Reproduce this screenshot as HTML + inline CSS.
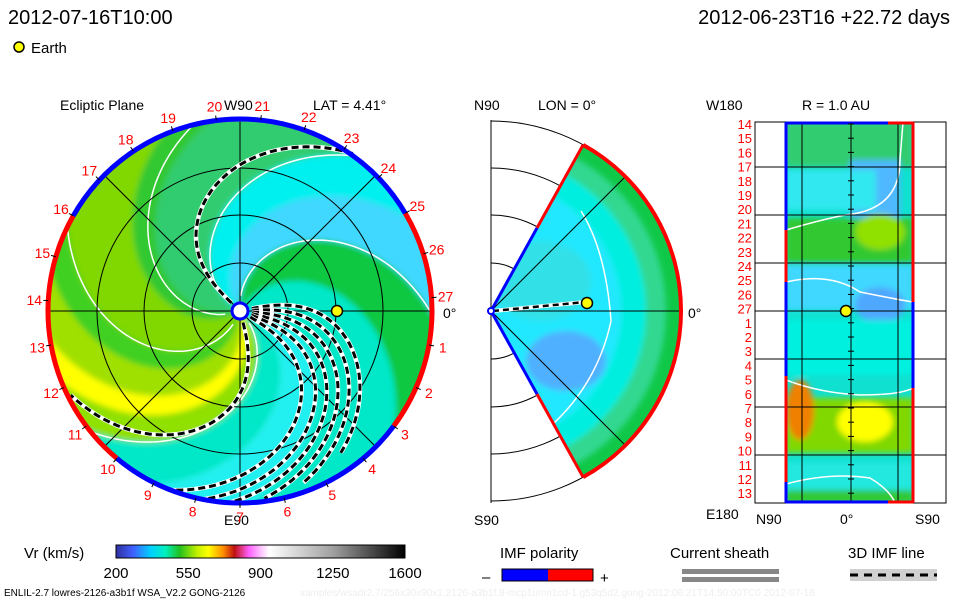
<!DOCTYPE html>
<html><head><meta charset="utf-8"><style>
body{margin:0;background:#fff;overflow:hidden;}
svg{display:block;font-family:"Liberation Sans",sans-serif;}
</style></head><body>
<svg id="s" width="960" height="600" viewBox="0 0 960 600">
<defs>
<filter id="bl" x="-10%" y="-10%" width="120%" height="120%"><feGaussianBlur stdDeviation="3"/></filter>
<clipPath id="discClip"><circle cx="240" cy="311" r="192"/></clipPath>
<clipPath id="wedgeClip"><path id="wedgePathC" d=""/></clipPath>
<clipPath id="rectClip"><rect x="786" y="122" width="127" height="381"/></clipPath>
<linearGradient id="cb" x1="0" x2="1" y1="0" y2="0">
<stop offset="0" stop-color="#3030a0"/><stop offset="0.06" stop-color="#4060ff"/><stop offset="0.12" stop-color="#00d0ff"/><stop offset="0.17" stop-color="#00f0c0"/><stop offset="0.22" stop-color="#20c020"/><stop offset="0.28" stop-color="#c0f000"/><stop offset="0.32" stop-color="#ffff00"/><stop offset="0.37" stop-color="#ff9000"/><stop offset="0.41" stop-color="#c01010"/><stop offset="0.46" stop-color="#ff60ff"/><stop offset="0.5" stop-color="#ffc0ff"/><stop offset="0.53" stop-color="#ffffff"/><stop offset="0.75" stop-color="#a0a0a0"/><stop offset="1" stop-color="#000"/>
</linearGradient>
</defs>
<text x="8" y="24" font-size="20" fill="#000">2012-07-16T10:00</text>
<text x="950" y="24" font-size="20" fill="#000" text-anchor="end">2012-06-23T16 +22.72 days</text>
<circle cx="19" cy="47" r="5" fill="#ffff00" stroke="#000" stroke-width="1.5"/>
<text x="31" y="53" font-size="15">Earth</text>
<text x="60" y="110" font-size="14">Ecliptic Plane</text>
<text x="313" y="110" font-size="14">LAT = 4.41°</text>
<text x="224" y="110" font-size="14">W90</text>
<text x="224" y="525" font-size="14">E90</text>
<text x="443" y="318" font-size="14">0°</text>
<text x="474" y="110" font-size="14">N90</text>
<text x="538" y="110" font-size="14">LON = 0°</text>
<text x="474" y="525" font-size="14">S90</text>
<text x="688" y="318" font-size="14">0°</text>
<text x="706" y="110" font-size="14">W180</text>
<text x="802" y="110" font-size="14">R = 1.0 AU</text>
<text x="706" y="519" font-size="14">E180</text>
<text x="756" y="524" font-size="14">N90</text>
<text x="840" y="524" font-size="14">0°</text>
<text x="915" y="524" font-size="14">S90</text>
<g id="disc" clip-path="url(#discClip)"></g>
<g id="discOver"></g>
<g id="wedge"></g>
<g id="rect"></g>
<text x="24" y="558" font-size="15">Vr (km/s)</text>
<rect x="116" y="545" width="289" height="13" fill="url(#cb)" stroke="#000"/>
<g id="cbt"></g>
<text x="500" y="558" font-size="15">IMF polarity</text>
<text x="482" y="582" font-size="15">–</text>
<rect x="502" y="569" width="46" height="12" fill="#0000ff"/>
<rect x="548" y="569" width="45" height="12" fill="#ff0000"/>
<rect x="502" y="569" width="91" height="12" fill="none" stroke="#000"/>
<text x="600" y="583" font-size="15">+</text>
<text x="670" y="558" font-size="15">Current sheath</text>
<rect x="682" y="569" width="97" height="5" fill="#888"/>
<rect x="682" y="577" width="97" height="5" fill="#888"/>
<text x="848" y="558" font-size="15">3D IMF line</text>
<rect x="850" y="569" width="87" height="12" fill="#d0d0d0"/>
<line x1="850" y1="575" x2="937" y2="575" stroke="#000" stroke-width="3" stroke-dasharray="8 6"/>
<text x="4" y="596" font-size="10">ENLIL-2.7 lowres-2126-a3b1f WSA_V2.2 GONG-2126</text>
<text x="300" y="596" font-size="10" fill="#eee">xamples/wsadr2.7/256x30x90x1.2126-a3b1f.8-mcp1umn1cd-1.g53q5d2.gong-2012:06:21T14:50:00TC0   2012-07-16</text>
</svg>
<script>
const NS="http://www.w3.org/2000/svg";
// ---- data ----
const dayLabels=[1,2,3,4,5,6,7,8,9,10,11,12,13,14,15,16,17,18,19,20,21,22,23,24,25,26,27];
const rightDayLabels=[14,15,16,17,18,19,20,21,22,23,24,25,26,27,1,2,3,4,5,6,7,8,9,10,11,12,13];
const colorbarTicks=[200,550,900,1250,1600];
const vrMin=200, vrMax=1600;
// spiral bands in ecliptic plane: [startAngle, endAngle] (deg at Sun), colour
const bandStart=[-170,-150,-110,-95,-75,-62,-45,-20,10,60,95,125,150,195];
const bandEnd=[-150,-110,-95,-75,-62,-45,-20,10,60,95,125,150,195,200];
const bandColor=["#30c830","#80d800","#40d020","#a0e000","#ffff00","#90e000","#00e8c8","#20f0f0","#00e8c8","#10c840","#40d8ff","#00f0f0","#30cc70","#30c830"];
const imfLineAngles=[12,4,-4,-12,-20,-30,137,-75];
const imfLineLength=[175,185,190,192,192,192,195,190];
const earthLon=0, earthR=1.0;
// ---- helpers ----
const s=document.getElementById('s');
function el(tag,attrs,parent){const e=document.createElementNS(NS,tag);for(const k in attrs)e.setAttribute(k,attrs[k]);(parent||s).appendChild(e);return e;}
const CX=240,CY=311,R=192,K=0.5,K2=0.0022;
function pt(th,r){const a=th*Math.PI/180;return [CX+r*Math.cos(a),CY-r*Math.sin(a)];}
function spiral(th0,r0,r1){const p=[];for(let r=r0;r<=r1;r+=3){p.push(pt(th0-K*r,r));}return p;}
function fieldLine(th0,r0,r1){const p=[];for(let r=r0;r<=r1;r+=3){p.push(pt(th0-K2*r*r,r));}return p;}
// disc
const disc=document.getElementById('disc');
el('circle',{cx:CX,cy:CY,r:R,fill:"#30c830"},disc);
const bg=el('g',{filter:"url(#bl)"},disc);
for(let i=0;i<bandStart.length;i++){
  const a=spiral(bandStart[i],0,220), b=spiral(bandEnd[i],0,220).reverse();
  const p=el('path',{d:"M"+a.concat(b).map(q=>q[0].toFixed(1)+","+q[1].toFixed(1)).join("L")+"Z",fill:bandColor[i]},bg);
  
  
}
[-110,-45,95,150,200].forEach(t=>{const p=spiral(t,15,200);el('path',{d:"M"+p.map(q=>q.join(",")).join("L"),fill:"none",stroke:"#fff","stroke-width":1.5},disc);});
// grid
const ov=document.getElementById('discOver');
[48,96,143].forEach(r=>el('circle',{cx:CX,cy:CY,r:r,fill:"none",stroke:"#000","stroke-width":1},ov));
[0,45,90,135].forEach(a=>{const p=pt(a,R),q=pt(a+180,R);el('line',{x1:p[0],y1:p[1],x2:q[0],y2:q[1],stroke:"#000","stroke-width":1},ov);});
// imf lines
imfLineAngles.forEach((t,i)=>{const p=fieldLine(t,12,imfLineLength[i]);const d="M"+p.map(q=>q[0].toFixed(1)+","+q[1].toFixed(1)).join("L");
 el('path',{d:d,fill:"none",stroke:"#fff","stroke-width":4.5},ov);
 const l=el('path',{d:d,fill:"none",stroke:"#000","stroke-width":3,"stroke-dasharray":"7 4"},ov);
 
 });
// rim
function arc(a0,a1,r,col,w,parent){const p=pt(a0,r),q=pt(a1,r);const large=(a1-a0)>180?1:0;return el('path',{d:`M${p[0]},${p[1]} A${r},${r} 0 ${large} 0 ${q[0]},${q[1]}`,fill:"none",stroke:col,"stroke-width":w},parent);}
function dayAng(k){return 4+(27-k)*13.3;}
arc(dayAng(25),dayAng(16),R,"#0000ff",5,ov);
arc(dayAng(16),dayAng(10),R,"#ff0000",5,ov);
arc(dayAng(10),dayAng(3),R,"#0000ff",5,ov);
arc(dayAng(3)-360,dayAng(25),R,"#ff0000",5,ov);
dayLabels.forEach(k=>{const a=dayAng(k);const p=pt(a,206);const t=el('text',{x:p[0],y:p[1]+5,"font-size":14,fill:"#ff0000","text-anchor":"middle"},ov);t.textContent=k;
 
 
 const a1=pt(a,192),a2=pt(a,197);el('line',{x1:a1[0],y1:a1[1],x2:a2[0],y2:a2[1],stroke:"#000"},ov);});
el('circle',{cx:CX,cy:CY,r:8,fill:"#fff",stroke:"#0000ff","stroke-width":3},ov);
const ep=pt(earthLon,earthR*97);
const e1=el('circle',{cx:ep[0],cy:ep[1],r:5.5,fill:"#ffff00",stroke:"#000","stroke-width":1.5},ov);


// wedge
const W=document.getElementById('wedge');const MX=491,MY=311,MR=190,WA=61;
function mp(a,r){const t=a*Math.PI/180;return [MX+r*Math.cos(t),MY-r*Math.sin(t)];}
const wt=mp(WA,MR),wb=mp(-WA,MR);
const wd=`M${MX},${MY} L${wt[0]},${wt[1]} A${MR},${MR} 0 0 1 ${wb[0]},${wb[1]} Z`;
el('line',{x1:MX,y1:120,x2:MX,y2:503,stroke:"#000"},W);
[48,96,143,190].forEach(r=>el('path',{d:`M${MX},${MY-r} A${r},${r} 0 0 1 ${MX},${MY+r}`,fill:"none",stroke:"#000"},W));
document.getElementById('wedgePathC').setAttribute('d',wd);
const wg=el('g',{"clip-path":"url(#wedgeClip)"},W);
el('path',{d:wd,fill:"#10c848"},wg);
const wg2=el('g',{filter:"url(#bl)"},wg);
el('circle',{cx:MX,cy:MY,r:175,fill:"#30d890"},wg2);
el('circle',{cx:MX,cy:MY,r:155,fill:"#00eee0"},wg2);
el('circle',{cx:MX,cy:MY,r:130,fill:"#20e8ff"},wg2);
el('ellipse',{cx:MX+50,cy:MY-30,rx:50,ry:40,fill:"#30e0e8"},wg2);
el('ellipse',{cx:MX+75,cy:MY+50,rx:40,ry:30,fill:"#50b0ff"},wg2);
el('path',{d:`M${MX+90},${MY-100} Q${MX+115},${MY-60} ${MX+120},${MY+10} Q${MX+105},${MY+80} ${MX+48},${MY+125}`,fill:"none",stroke:"#fff","stroke-width":1.5},wg);
[45,-45].forEach(a=>{const p=mp(a,MR);el('line',{x1:MX,y1:MY,x2:p[0],y2:p[1],stroke:"#000"},W);});
el('line',{x1:MX,y1:MY,x2:MX+190,y2:MY,stroke:"#000"},W);
const wm1=mp(WA,95),wm2=mp(-WA,95);
el('line',{x1:MX,y1:MY,x2:wm1[0],y2:wm1[1],stroke:"#0000ff","stroke-width":3},W);
el('line',{x1:wm1[0],y1:wm1[1],x2:wt[0],y2:wt[1],stroke:"#ff0000","stroke-width":3},W);
el('line',{x1:MX,y1:MY,x2:wm2[0],y2:wm2[1],stroke:"#0000ff","stroke-width":3},W);
el('line',{x1:wm2[0],y1:wm2[1],x2:wb[0],y2:wb[1],stroke:"#ff0000","stroke-width":3},W);
el('path',{d:`M${wt[0]},${wt[1]} A${MR},${MR} 0 0 1 ${wb[0]},${wb[1]}`,fill:"none",stroke:"#ff0000","stroke-width":4},W);
el('line',{x1:MX+2,y1:MY,x2:MX+94,y2:MY-9,stroke:"#fff","stroke-width":4},W);
el('line',{x1:MX+2,y1:MY,x2:MX+94,y2:MY-9,stroke:"#000","stroke-width":2.5,"stroke-dasharray":"6 4"},W);
el('circle',{cx:MX,cy:MY,r:3,fill:"#fff",stroke:"#0000ff","stroke-width":2},W);
const e2=el('circle',{cx:MX+96,cy:MY-8,r:5.5,fill:"#ffff00",stroke:"#000","stroke-width":1.5},W);


// right map
const RG=document.getElementById('rect');
el('rect',{x:755,y:122,width:191,height:381,fill:"#fff",stroke:"#000"},RG);
const rc=el('g',{"clip-path":"url(#rectClip)"},RG);
el('rect',{x:786,y:122,width:127,height:381,fill:"#10e0d0"},rc);
const rb=el('g',{filter:"url(#bl)"},rc);
el('rect',{x:786,y:122,width:127,height:45,fill:"#30cc70"},rb);
el('rect',{x:850,y:160,width:50,height:60,fill:"#50b8ff"},rb);
el('rect',{x:786,y:170,width:90,height:40,fill:"#30e8f0"},rb);
el('rect',{x:786,y:218,width:127,height:45,fill:"#30c830"},rb);
el('ellipse',{cx:880,cy:232,rx:25,ry:18,fill:"#90e000"},rb);
el('rect',{x:786,y:265,width:127,height:45,fill:"#40d8ff"},rb);
el('ellipse',{cx:880,cy:305,rx:25,ry:18,fill:"#50a8ff"},rb);
el('rect',{x:786,y:320,width:127,height:55,fill:"#00f0e0"},rb);
el('rect',{x:786,y:398,width:127,height:55,fill:"#80d800"},rb);
el('ellipse',{cx:865,cy:422,rx:28,ry:20,fill:"#ffff00"},rb);
el('ellipse',{cx:800,cy:410,rx:14,ry:30,fill:"#f08000"},rb);
el('rect',{x:786,y:462,width:127,height:30,fill:"#20e8e0"},rb);
el('rect',{x:786,y:490,width:127,height:13,fill:"#30c830"},rb);
el('path',{d:"M786,230 Q820,220 845,215 Q900,210 900,160 L903,122",fill:"none",stroke:"#fff","stroke-width":1.5},rc);
el('path',{d:"M786,282 Q830,272 860,292 Q900,300 913,302",fill:"none",stroke:"#fff","stroke-width":1.5},rc);
el('path',{d:"M786,380 Q820,393 860,395 Q900,395 913,388",fill:"none",stroke:"#fff","stroke-width":1.5},rc);
el('path',{d:"M786,484 Q830,472 870,478 Q890,490 895,503",fill:"none",stroke:"#fff","stroke-width":1.5},rc);
[167,215,263,311,359,407,455].forEach(y=>el('line',{x1:755,y1:y,x2:946,y2:y,stroke:"#000"},RG));
[802,851,898].forEach(x=>el('line',{x1:x,y1:122,x2:x,y2:503,stroke:"#000"},RG));
el('line',{x1:786,y1:122,x2:786,y2:230,stroke:"#0000ff","stroke-width":3},RG);
el('line',{x1:786,y1:230,x2:786,y2:282,stroke:"#ff0000","stroke-width":3},RG);
el('line',{x1:786,y1:282,x2:786,y2:376,stroke:"#0000ff","stroke-width":3},RG);
el('line',{x1:786,y1:376,x2:786,y2:482,stroke:"#ff0000","stroke-width":3},RG);
el('line',{x1:786,y1:482,x2:786,y2:503,stroke:"#0000ff","stroke-width":3},RG);
el('line',{x1:913,y1:122,x2:913,y2:302,stroke:"#ff0000","stroke-width":3},RG);
el('line',{x1:913,y1:302,x2:913,y2:388,stroke:"#0000ff","stroke-width":3},RG);
el('line',{x1:913,y1:388,x2:913,y2:503,stroke:"#ff0000","stroke-width":3},RG);
el('line',{x1:786,y1:123,x2:888,y2:123,stroke:"#0000ff","stroke-width":3},RG);
el('line',{x1:888,y1:123,x2:913,y2:123,stroke:"#ff0000","stroke-width":3},RG);
el('line',{x1:786,y1:502,x2:888,y2:502,stroke:"#0000ff","stroke-width":3},RG);
el('line',{x1:888,y1:502,x2:913,y2:502,stroke:"#ff0000","stroke-width":3},RG);
rightDayLabels.forEach((k,i)=>{const y=129+i*14.2;const t=el('text',{x:752,y:y,"font-size":13,fill:"#ff0000","text-anchor":"end"},RG);t.textContent=k;
 
 
 el('line',{x1:848,y1:y-5,x2:854,y2:y-5,stroke:"#000"},RG);});
const e3=el('circle',{cx:846,cy:311,r:5.5,fill:"#ffff00",stroke:"#000","stroke-width":1.5},RG);


// colorbar ticks
const cbt=document.getElementById('cbt');
colorbarTicks.forEach(v=>{const x=116+(v-vrMin)/(vrMax-vrMin)*289;const t=el('text',{x:x,y:578,"font-size":15,"text-anchor":"middle"},cbt);t.textContent=v;
 
 });
</script>
</body></html>
